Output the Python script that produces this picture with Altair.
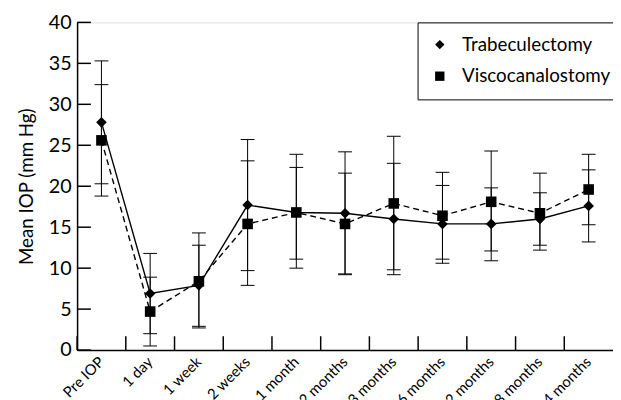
import altair as alt
import pandas as pd

categories = ["Pre IOP", "1 day", "1 week", "2 weeks", "1 month", "2 months",
              "3 months", "6 months", "12 months", "18 months", "24 months"]
series_names = ["Trabeculectomy", "Viscocanalostomy"]

trab_mean = [27.8, 6.9, 7.9, 17.7, 16.8, 16.7, 16.0, 15.4, 15.4, 16.0, 17.6]
trab_upper = [35.3, 11.8, 12.8, 25.7, 23.9, 24.2, 22.8, 20.1, 19.8, 19.2, 22.0]
trab_lower = [20.3, 2.0, 2.9, 9.7, 10.0, 9.2, 9.2, 10.6, 10.9, 12.8, 13.2]

visco_mean = [25.6, 4.7, 8.4, 15.4, 16.8, 15.4, 17.9, 16.4, 18.1, 16.7, 19.6]
visco_upper = [32.4, 8.9, 14.3, 23.1, 22.3, 21.6, 26.1, 21.7, 24.3, 21.6, 23.9]
visco_lower = [18.8, 0.5, 2.7, 7.9, 11.1, 9.3, 9.8, 11.1, 12.1, 12.2, 15.3]

y_ticks = [0, 5, 10, 15, 20, 25, 30, 35, 40]

rows = []
for name, m, lo, up in [(series_names[0], trab_mean, trab_lower, trab_upper),
                        (series_names[1], visco_mean, visco_lower, visco_upper)]:
    for c, a, b, u in zip(categories, m, lo, up):
        rows.append({"category": c, "series": name, "mean": a, "lower": b, "upper": u})
df = pd.DataFrame(rows)

FONT = "Lato"
W, H = 543, 332
TICK = 14
xscale = alt.Scale(type="band", domain=categories, paddingInner=0, paddingOuter=0)
yscale = alt.Scale(domain=[0, 40], nice=False, zero=True)

x_main_axis = alt.Axis(title=None, ticks=False, tickSize=0, labelAngle=-45,
                       labelAlign="right", labelBaseline="middle", labelPadding=9,
                       labelFontSize=15, labelFont=FONT, labelColor="black",
                       domainColor="black", domainWidth=1.5, grid=False, orient="bottom")
y_main_axis = alt.Axis(title="Mean IOP (mm Hg)", values=y_ticks, ticks=False, tickSize=0,
                       labelPadding=6, labelFontSize=20, labelFont=FONT,
                       labelColor="black", domainColor="black", domainWidth=1.5,
                       grid=False, orient="left", titleFontSize=19,
                       titleFontWeight="normal", titleFont=FONT, titleColor="black",
                       titlePadding=12)

base = alt.Chart(df)

line_trab = base.transform_filter(alt.datum.series == series_names[0]).mark_line(
    color="black", strokeWidth=1.4).encode(
    x=alt.X("category:N", sort=categories, scale=xscale, axis=x_main_axis),
    y=alt.Y("mean:Q", scale=yscale, axis=y_main_axis),
)
line_visco = base.transform_filter(alt.datum.series == series_names[1]).mark_line(
    color="black", strokeWidth=1.4, strokeDash=[6, 4]).encode(
    x=alt.X("category:N", sort=categories, scale=xscale),
    y=alt.Y("mean:Q", scale=yscale),
)

rules = base.mark_rule(color="black", strokeWidth=1).encode(
    x=alt.X("category:N", sort=categories, scale=xscale),
    y=alt.Y("lower:Q", scale=yscale),
    y2="upper:Q",
)

cap_up = base.mark_tick(color="black", thickness=1, size=14, opacity=1).encode(
    x=alt.X("category:N", sort=categories, scale=xscale),
    y=alt.Y("upper:Q", scale=yscale),
)
cap_lo = base.mark_tick(color="black", thickness=1, size=14, opacity=1).encode(
    x=alt.X("category:N", sort=categories, scale=xscale),
    y=alt.Y("lower:Q", scale=yscale),
)

# inward axis ticks: x at band boundaries, y at the tick values
xticks = alt.Chart(alt.Data(values=[{"category": c} for c in categories])).mark_tick(
    color="black", thickness=1.5, size=TICK, orient="vertical", yOffset=-TICK / 2,
    opacity=1).encode(
    x=alt.X("category:N", sort=categories, scale=xscale, bandPosition=0),
    y=alt.datum(0),
)
yticks = alt.Chart(alt.Data(values=[{"v": v} for v in y_ticks])).mark_tick(
    color="black", thickness=1.5, size=TICK, orient="horizontal", xOffset=TICK / 2,
    opacity=1).encode(
    x=alt.value(0),
    y=alt.Y("v:Q", scale=yscale),
)

points = base.mark_point(filled=True, opacity=1, color="black", strokeWidth=0,
                         size=115).encode(
    x=alt.X("category:N", sort=categories, scale=xscale),
    y=alt.Y("mean:Q", scale=yscale),
    shape=alt.Shape("series:N",
                    scale=alt.Scale(domain=series_names, range=["diamond", "square"]),
                    legend=alt.Legend(title=None, orient="none", legendX=345, legendY=0,
                                      strokeColor="black", fillColor="white",
                                      padding=13, labelFontSize=19, labelFont=FONT,
                                      labelColor="black", rowPadding=12,
                                      labelOffset=13, symbolSize=90,
                                      symbolFillColor="black", symbolStrokeWidth=0)),
)

chart = alt.layer(line_trab, line_visco, rules, cap_up, cap_lo, xticks, yticks, points).properties(
    width=W, height=H,
    autosize=alt.AutoSizeParams(type="none"),
    padding={"left": 70, "top": 12, "right": 0, "bottom": 48},
).configure_view(stroke=None).configure(font=FONT)

chart.save("out.html", embed_options={"renderer": "svg", "actions": False})
